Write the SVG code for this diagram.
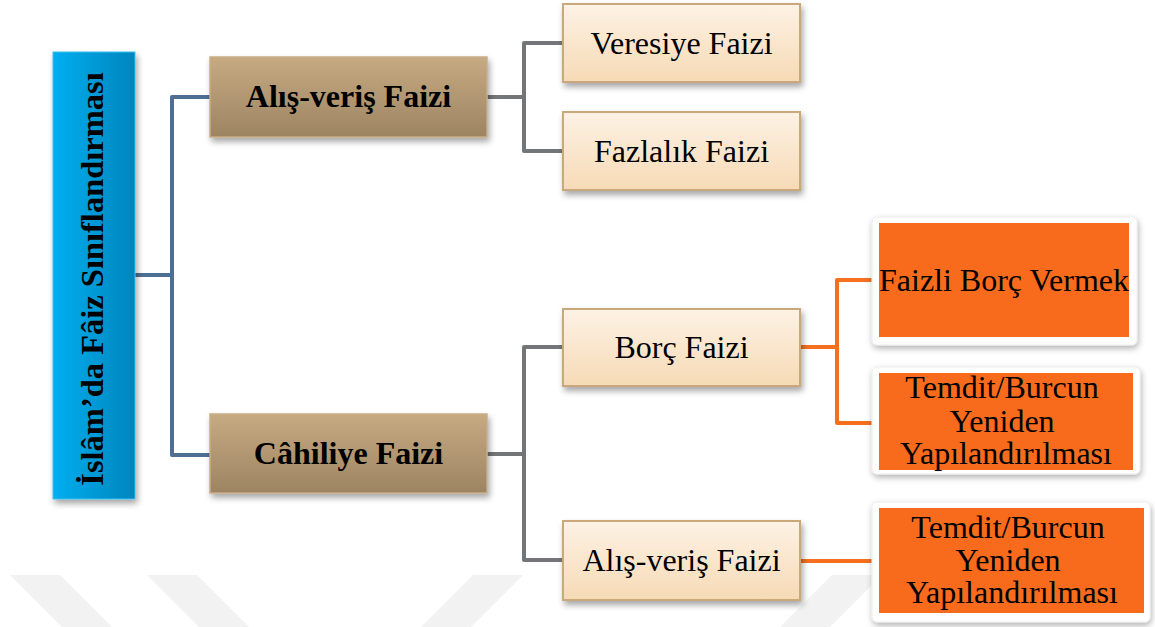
<svg xmlns="http://www.w3.org/2000/svg" width="1155" height="627" viewBox="0 0 1155 627">
  <defs>
    <linearGradient id="gRoot" x1="0" y1="0" x2="1" y2="0">
      <stop offset="0" stop-color="#00aef0"/>
      <stop offset="1" stop-color="#0085bd"/>
    </linearGradient>
    <linearGradient id="gTan" x1="0" y1="0" x2="0" y2="1">
      <stop offset="0" stop-color="#c6aa82"/>
      <stop offset="1" stop-color="#9d8462"/>
    </linearGradient>
    <linearGradient id="gCream" x1="0" y1="0" x2="0" y2="1">
      <stop offset="0" stop-color="#fdf2e5"/>
      <stop offset="1" stop-color="#f6dab5"/>
    </linearGradient>
    <filter id="shadow" x="-10%" y="-10%" width="125%" height="130%">
      <feDropShadow dx="2" dy="4" stdDeviation="3" flood-color="#000" flood-opacity="0.35"/>
    </filter>
    <filter id="soft" x="-10%" y="-10%" width="125%" height="130%">
      <feDropShadow dx="1" dy="3" stdDeviation="3" flood-color="#000" flood-opacity="0.3"/>
    </filter>
  </defs>
  <style>
    .bold { font-family: "Liberation Serif", serif; font-weight: bold; fill: #000; }
    .reg { font-family: "Liberation Serif", serif; font-weight: normal; fill: #000; }
    .l1 { fill: url(#gTan); stroke: #c8ad86; stroke-width: 1.5; filter: url(#shadow); }
    .l2 { fill: url(#gCream); stroke: #c9a97c; stroke-width: 2; filter: url(#shadow); }
    .card { fill: #fff; stroke: #ececec; stroke-width: 1; filter: url(#soft); }
    .orange { fill: #f86b1d; }
    .wm { fill: #f2f2f2; }
    .c-blue { fill: none; stroke: #4f6e94; stroke-width: 4; stroke-linejoin: round; }
    .c-gray { fill: none; stroke: #737579; stroke-width: 4; stroke-linejoin: round; }
    .c-orange { fill: none; stroke: #f4701e; stroke-width: 4; stroke-linejoin: round; }
  </style>

  <rect width="1155" height="627" fill="#fff"/>

  <!-- background watermark stripes -->
  <g id="watermark">
    <polygon class="wm" points="10,575 60,575 112,627 62,627"/>
    <polygon class="wm" points="147,575 197,575 249,627 199,627"/>
    <polygon class="wm" points="473,575 523,575 471,627 421,627"/>
    <polygon class="wm" points="832,575 882,575 830,627 780,627"/>
  </g>

  <!-- connectors -->
  <g id="connectors">
    <path class="c-blue" d="M135,275 H172 M210,97 H172 V455 H210"/>
    <path class="c-gray" d="M487,97 H524 M563,43 H524 V151 H563"/>
    <path class="c-gray" d="M487,454 H524 M563,347 H524 V560 H563"/>
    <path class="c-orange" d="M800,347 H837 M872,280 H837 V423 H872"/>
    <path class="c-orange" d="M800,561 H872"/>
  </g>

  <!-- root -->
  <g id="root">
    <rect x="53" y="52" width="82" height="447" fill="url(#gRoot)" stroke="#3fc0f0" stroke-width="1" filter="url(#shadow)"/>
    <text class="bold" font-size="32.5" text-anchor="middle" transform="translate(103,279) rotate(-90)">İslâm’da Fâiz Sınıflandırması</text>
  </g>

  <!-- level 1 -->
  <g id="alisveris1">
    <rect class="l1" x="210" y="57" width="277" height="80"/>
    <text class="bold" font-size="32" x="348.5" y="107" text-anchor="middle">Alış-veriş Faizi</text>
  </g>
  <g id="cahiliye">
    <rect class="l1" x="210" y="414" width="277" height="79"/>
    <text class="bold" font-size="32" x="348.5" y="464" text-anchor="middle">Câhiliye Faizi</text>
  </g>

  <!-- level 2 -->
  <g id="veresiye">
    <rect class="l2" x="563" y="4" width="237" height="78"/>
    <text class="reg" font-size="32" x="681.5" y="54" text-anchor="middle">Veresiye Faizi</text>
  </g>
  <g id="fazlalik">
    <rect class="l2" x="563" y="112" width="237" height="78"/>
    <text class="reg" font-size="32" x="681.5" y="162" text-anchor="middle">Fazlalık Faizi</text>
  </g>
  <g id="borc">
    <rect class="l2" x="563" y="309" width="237" height="77"/>
    <text class="reg" font-size="32" x="681.5" y="358" text-anchor="middle">Borç Faizi</text>
  </g>
  <g id="alisveris2">
    <rect class="l2" x="563" y="521" width="237" height="79"/>
    <text class="reg" font-size="32" x="681.5" y="571" text-anchor="middle">Alış-veriş Faizi</text>
  </g>

  <!-- level 3 -->
  <g id="faizli-borc">
    <rect class="card" x="872" y="217" width="265" height="128" rx="5"/>
    <rect class="orange" x="879" y="223" width="250" height="114"/>
    <text class="reg" font-size="32" x="1004" y="291" text-anchor="middle">Faizli Borç Vermek</text>
  </g>
  <g id="temdit1">
    <rect class="card" x="872" y="367" width="268" height="107" rx="5"/>
    <rect class="orange" x="879" y="373" width="254" height="97"/>
    <text class="reg" font-size="32" text-anchor="middle">
      <tspan x="1006" y="398">Temdit/Burcun</tspan>
      <tspan x="1006" y="432">Yeniden</tspan>
      <tspan x="1006" y="464">Yapılandırılması</tspan>
    </text>
  </g>
  <g id="temdit2">
    <rect class="card" x="872" y="502" width="278" height="120" rx="5"/>
    <rect class="orange" x="879" y="508" width="265" height="105"/>
    <text class="reg" font-size="32" text-anchor="middle">
      <tspan x="1012" y="538">Temdit/Burcun</tspan>
      <tspan x="1012" y="571">Yeniden</tspan>
      <tspan x="1012" y="603">Yapılandırılması</tspan>
    </text>
  </g>
</svg>
